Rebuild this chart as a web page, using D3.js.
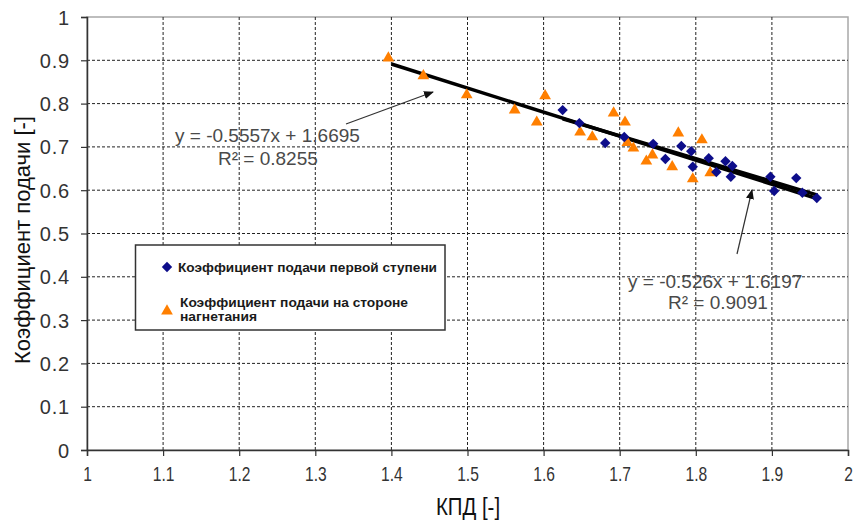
<!DOCTYPE html>
<html><head><meta charset="utf-8">
<script src="https://cdn.jsdelivr.net/npm/d3@7"></script>
<style>
body{margin:0;background:#fff;}
svg{display:block;}
text{font-family:"Liberation Sans",Arial,sans-serif;}
</style></head>
<body>
<svg id="c" width="855" height="521"></svg>
<script>
const xTicks = [1,1.1,1.2,1.3,1.4,1.5,1.6,1.7,1.8,1.9,2];
const yTicks = [0,0.1,0.2,0.3,0.4,0.5,0.6,0.7,0.8,0.9,1];

const stage1X = [1.625,1.647,1.681,1.706,1.744,1.760,1.781,1.794,1.796,1.817,1.827,1.839,1.848,1.846,1.898,1.903,1.932,1.940,1.959];
const stage1Y = [0.785,0.755,0.709,0.723,0.707,0.672,0.702,0.690,0.654,0.674,0.642,0.667,0.656,0.631,0.631,0.598,0.628,0.594,0.582];

const dischX = [1.396,1.442,1.499,1.562,1.591,1.602,1.648,1.664,1.692,1.707,1.710,1.718,1.735,1.743,1.769,1.777,1.796,1.808,1.819];
const dischY = [0.905,0.864,0.820,0.785,0.757,0.818,0.734,0.723,0.778,0.757,0.710,0.697,0.667,0.681,0.654,0.732,0.626,0.716,0.640];

const trendDisch = {slope:-0.5557, intercept:1.6695, from:1.4, to:1.96, label:"y = -0.5557x + 1.6695", r2:"R² = 0.8255"};
const trendStage1 = {slope:-0.526, intercept:1.6197, from:1.625, to:1.96, label:"y = -0.526x + 1.6197", r2:"R² = 0.9091"};

const seriesNames = ["Коэффициент подачи первой ступени", "Коэффициент подачи на стороне", "нагнетания"];
const xTitle = "КПД [-]";
const yTitle = "Коэффициент подачи [-]";

const L=87, R=848, T=17, B=450;
const svg = d3.select("#c");
const x = d3.scaleLinear().domain([1,2]).range([L,R]);
const y = d3.scaleLinear().domain([0,1]).range([B,T]);

// plot border (gray)
svg.append("rect").attr("x",L).attr("y",T).attr("width",R-L).attr("height",B-T)
  .attr("fill","#fff").attr("stroke","#a8a8a8").attr("stroke-width",1.5);

// grid
svg.append("g").selectAll("line").data(xTicks.filter(d=>d>1&&d<2)).join("line")
  .attr("x1",d=>x(d)).attr("x2",d=>x(d)).attr("y1",T).attr("y2",B)
  .attr("stroke","#222").attr("stroke-width",1).attr("stroke-dasharray","3,2");
svg.append("g").selectAll("line").data(yTicks.filter(d=>d>0&&d<1)).join("line")
  .attr("y1",d=>y(d)).attr("y2",d=>y(d)).attr("x1",L).attr("x2",R)
  .attr("stroke","#222").attr("stroke-width",1).attr("stroke-dasharray","3,2");

// axes
const xa = svg.append("g").attr("transform",`translate(0,${B})`)
  .call(d3.axisBottom(x).tickValues(xTicks).tickFormat(d3.format("")).tickSizeOuter(0).tickSize(6));
const ya = svg.append("g").attr("transform",`translate(${L},0)`)
  .call(d3.axisLeft(y).tickValues(yTicks).tickFormat(d3.format("")).tickSizeOuter(0).tickSize(6));
[xa,ya].forEach(a=>{
  a.select(".domain").attr("stroke","#333").attr("stroke-width",1.5);
  a.selectAll(".tick line").attr("stroke","#333").attr("stroke-width",1.2);
  a.selectAll("text").attr("fill","#333").attr("font-family",null);
});
xa.selectAll("text").attr("font-size",20).attr("y",31).attr("dy",0).attr("transform","scale(0.78,1)");
ya.selectAll("text").attr("font-size",20).attr("x",-17).attr("dy","0.35em").attr("letter-spacing","0.8px");

// trend lines
[trendDisch,trendStage1].forEach(t=>{
  svg.append("line").attr("x1",x(t.from)).attr("y1",y(t.slope*t.from+t.intercept))
    .attr("x2",x(t.to)).attr("y2",y(t.slope*t.to+t.intercept))
    .attr("stroke","#000").attr("stroke-width",3.5);
});

// points
const tri = d3.symbol().type(d3.symbolTriangle).size(60);
const dia = "M0,-5.2L5.2,0L0,5.2L-5.2,0Z";
svg.append("g").selectAll("path").data(dischX.map((v,i)=>[v,dischY[i]])).join("path")
  .attr("d",tri).attr("transform",d=>`translate(${x(d[0])},${y(d[1])})`).attr("fill","#ff7f00");
svg.append("g").selectAll("path").data(stage1X.map((v,i)=>[v,stage1Y[i]])).join("path")
  .attr("d",dia).attr("transform",d=>`translate(${x(d[0])},${y(d[1])})`).attr("fill","#0d0d8a");

// arrows
const defs = svg.append("defs");
defs.append("marker").attr("id","ah").attr("viewBox","0 0 10 10").attr("refX",9).attr("refY",5)
  .attr("markerWidth",10).attr("markerHeight",10).attr("orient","auto").attr("markerUnits","userSpaceOnUse")
  .append("path").attr("d","M0,1 L10,5 L0,9 z").attr("fill","#111");
svg.append("line").attr("x1",346).attr("y1",124).attr("x2",433).attr("y2",92)
  .attr("stroke","#333").attr("stroke-width",1.2).attr("marker-end","url(#ah)");
svg.append("line").attr("x1",737).attr("y1",254).attr("x2",752).attr("y2",190)
  .attr("stroke","#333").attr("stroke-width",1.2).attr("marker-end","url(#ah)");

// equation labels
function eq(t, x0, y0, x1, y1){
  svg.append("text").attr("x",x0).attr("y",y0)
    .attr("font-size",19).attr("fill","#4a4a4a").text(t.label);
  svg.append("text").attr("x",x1).attr("y",y1)
    .attr("font-size",19).attr("fill","#4a4a4a").text(t.r2);
}
eq(trendDisch, 175, 142, 218, 165);
eq(trendStage1, 628, 288, 668, 309);

// legend
const lg = svg.append("g");
lg.append("rect").attr("x",135.5).attr("y",245).attr("width",309.5).attr("height",85)
  .attr("fill","#fff").attr("stroke","#333").attr("stroke-width",1.5);
lg.append("path").attr("d",dia).attr("transform","translate(167,267)").attr("fill","#0d0d8a");
lg.append("path").attr("d",tri).attr("transform","translate(167,311)").attr("fill","#ff7f00");
const lt = [[178,272,259],[180,307,228],[180,321,77]];
lt.forEach((p,i)=>{
  lg.append("text").attr("x",p[0]).attr("y",p[1]).attr("font-size",13.5).attr("font-weight","bold")
    .attr("textLength",p[2]).attr("lengthAdjust","spacingAndGlyphs")
    .attr("fill","#1a1a1a").text(seriesNames[i]);
});

// titles
svg.append("text").attr("transform","translate(468,515) scale(0.85,1)").attr("text-anchor","middle")
  .attr("font-size",24).attr("fill","#111").text(xTitle);
svg.append("text").attr("transform","translate(30,240) rotate(-90)").attr("text-anchor","middle")
  .attr("font-size",22).attr("fill","#111").text(yTitle);
</script>
</body></html>
